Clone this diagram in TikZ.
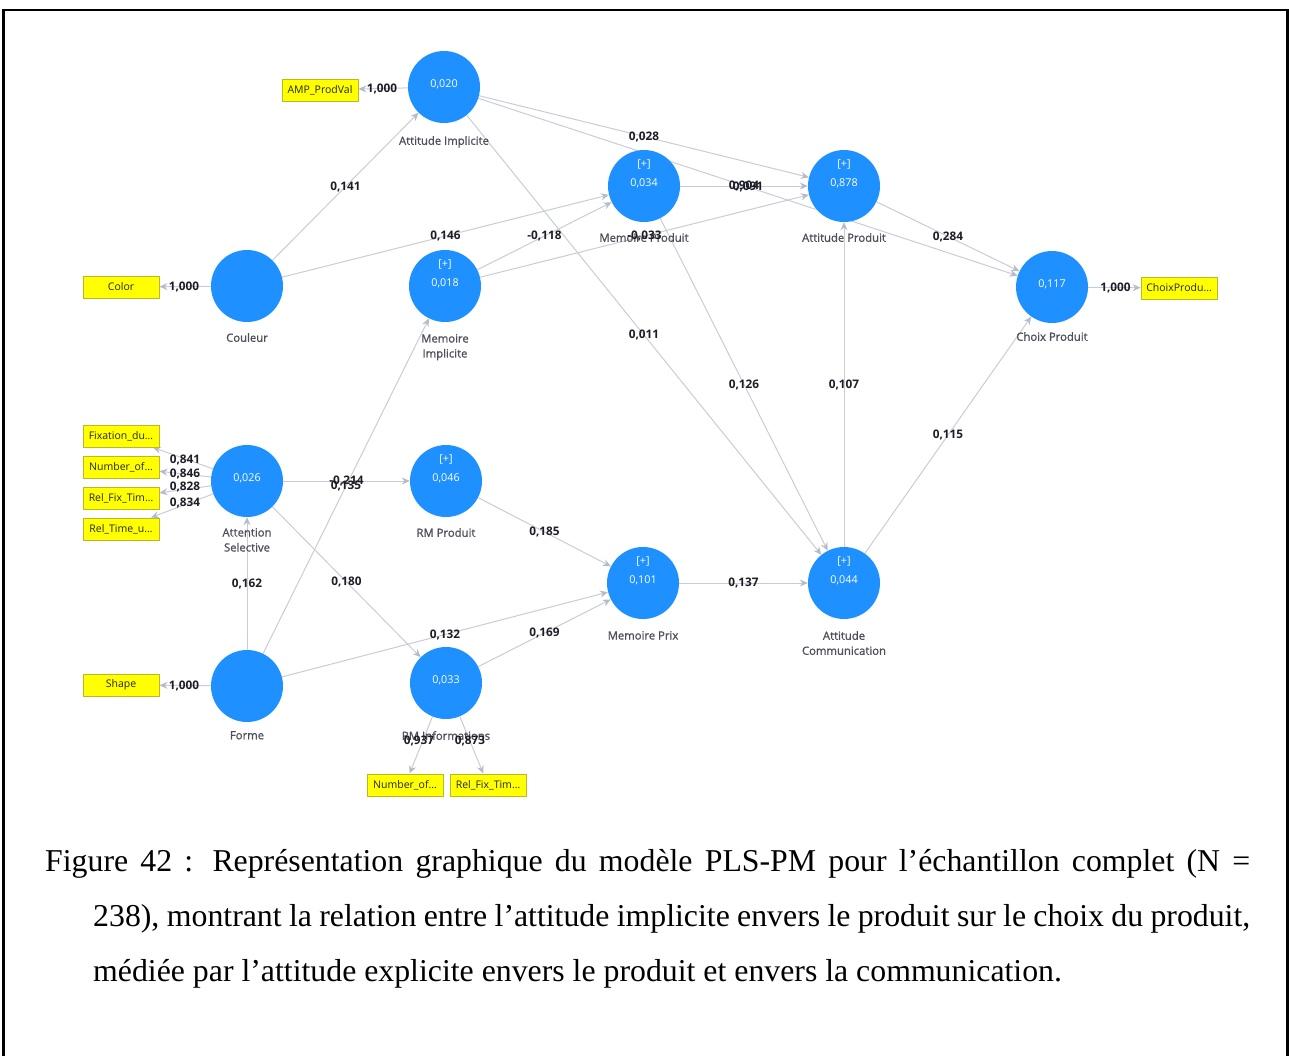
\documentclass[tikz,border=0pt]{standalone}
\usepackage{fontspec}
\setmainfont{Liberation Serif}
\newfontfamily\dfont{Open Sans}
\newfontfamily\lfont[FakeBold=1.1]{Open Sans}
\usetikzlibrary{arrows.meta,calc}
\pgfdeclarelayer{bg}
\pgfsetlayers{bg,main}
\definecolor{lvblue}{RGB}{30,144,255}
\definecolor{edgec}{RGB}{200,204,216}
\definecolor{tipc}{RGB}{182,187,202}
\definecolor{boxy}{RGB}{255,255,0}
\definecolor{boxb}{RGB}{185,185,40}
\definecolor{labc}{RGB}{78,78,92}
\definecolor{coefc}{RGB}{30,30,40}
\tikzset{
  lv/.style={circle,fill=lvblue,minimum size=72pt,inner sep=0pt},
  mv/.style={rectangle,fill=boxy,draw=boxb,line width=0.8pt,minimum width=76pt,minimum height=22pt,inner sep=0pt,font=\dfont\fontsize{10.5}{12}\selectfont,text=black!85},
  val/.style={text=white,font=\dfont\fontsize{10.8}{12}\selectfont,inner sep=0pt},
  lab/.style={text=labc,font=\lfont\fontsize{11.3}{15}\selectfont,align=center,anchor=north,inner sep=0pt},
  coef/.style={text=coefc,font=\dfont\bfseries\fontsize{11.8}{13}\selectfont,inner sep=0pt},
  edge/.style={draw=edgec,line width=1pt,-{Stealth[length=8pt,width=7pt,color=tipc]}},
  captext/.style={anchor=base west,inner sep=0pt,font=\fontsize{31.8}{36}\selectfont},
}
\begin{document}
\begin{tikzpicture}[x=1pt,y=-1pt]
\useasboundingbox (0,0) rectangle (1289,1055);
\draw[line width=2.2pt] (3.5,1060) -- (3.5,10) -- (1287.5,10) -- (1287.5,1060);

% latent variables
\node[lv] (ai) at (444,87) {};
\node[lv] (cou) at (247,286) {};
\node[lv] (mi) at (445,286) {};
\node[lv] (mp) at (644,186) {};
\node[lv] (ap) at (844,186) {};
\node[lv] (ch) at (1052,287) {};
\node[lv] (as) at (247,481) {};
\node[lv] (rp) at (446,481) {};
\node[lv] (mx) at (643,583) {};
\node[lv] (ac) at (844,583) {};
\node[lv] (fo) at (247,686) {};
\node[lv] (ri) at (446,683) {};

% values inside
\node[val] at ($(ai)+(0,-3)$) {0,020};
\node[val] at ($(mi)+(0,-22)$) {[+]};
\node[val] at ($(mi)+(0,-3)$) {0,018};
\node[val] at ($(mp)+(0,-22)$) {[+]};
\node[val] at ($(mp)+(0,-3)$) {0,034};
\node[val] at ($(ap)+(0,-22)$) {[+]};
\node[val] at ($(ap)+(0,-3)$) {0,878};
\node[val] at ($(ch)+(0,-3)$) {0,117};
\node[val] at ($(as)+(0,-3)$) {0,026};
\node[val] at ($(rp)+(0,-22)$) {[+]};
\node[val] at ($(rp)+(0,-3)$) {0,046};
\node[val] at ($(mx)+(0,-22)$) {[+]};
\node[val] at ($(mx)+(0,-3)$) {0,101};
\node[val] at ($(ac)+(0,-22)$) {[+]};
\node[val] at ($(ac)+(0,-3)$) {0,044};
\node[val] at ($(ri)+(0,-3)$) {0,033};

% names
\node[lab] at ($(ai)+(0,49)$) {Attitude Implicite};
\node[lab] at ($(cou)+(0,47)$) {Couleur};
\node[lab] at ($(mi)+(0,48)$) {Memoire\\Implicite};
\node[lab] at ($(mp)+(0,47)$) {Memoire Produit};
\node[lab] at ($(ap)+(0,47)$) {Attitude Produit};
\node[lab] at ($(ch)+(0,45)$) {Choix Produit};
\node[lab] at ($(as)+(0,47)$) {Attention\\Selective};
\node[lab] at ($(rp)+(0,47)$) {RM Produit};
\node[lab] at ($(mx)+(0,48)$) {Memoire Prix};
\node[lab] at ($(ac)+(0,48)$) {Attitude\\Communication};
\node[lab] at ($(fo)+(0,45)$) {Forme};
\node[lab] at ($(ri)+(0,48)$) {RM Informations};

% indicators
\node[mv] (amp) at (320,90) {AMP\_ProdVal};
\node[mv] (color) at (121,287) {Color};
\node[mv] (chb) at (1179,288) {ChoixProdu…};
\node[mv] (fix) at (121,436) {Fixation\_du…};
\node[mv] (nof) at (121,467) {Number\_of…};
\node[mv] (rft) at (121,498) {Rel\_Fix\_Tim…};
\node[mv] (rtu) at (121,529) {Rel\_Time\_u…};
\node[mv] (shape) at (121,685) {Shape};
\node[mv] (nof2) at (405,785) {Number\_of…};
\node[mv] (rft2) at (488,785) {Rel\_Fix\_Tim…};

\begin{pgfonlayer}{bg}
\draw[edge] (ai) -- (amp);
\draw[edge] (cou) -- (color);
\draw[edge] (ch) -- (chb);
\draw[edge] (as) -- (fix);
\draw[edge] (as) -- (nof);
\draw[edge] (as) -- (rft);
\draw[edge] (as) -- (rtu);
\draw[edge] (fo) -- (shape);
\draw[edge] (ri) -- (nof2);
\draw[edge] (ri) -- (rft2);
\draw[edge] (cou) -- (ai);
\draw[edge] (cou) -- (mp);
\draw[edge] (ai) -- (ap);
\draw[edge] (ai) -- (ch);
\draw[edge] (ai) -- (ac);
\draw[edge] (mi) -- (mp);
\draw[edge] (mi) -- (ap);
\draw[edge] (mp) -- (ap);
\draw[edge] (mp) -- (ac);
\draw[edge] (ap) -- (ch);
\draw[edge] (ac) -- (ap);
\draw[edge] (ac) -- (ch);
\draw[edge] (as) -- (rp);
\draw[edge] (fo) -- (mi);
\draw[edge] (fo) -- (as);
\draw[edge] (as) -- (ri);
\draw[edge] (fo) -- (mx);
\draw[edge] (ri) -- (mx);
\draw[edge] (rp) -- (mx);
\draw[edge] (mx) -- (ac);
\end{pgfonlayer}

% loadings
\node[coef] at ($(ai)!0.5!(amp)$) {1,000};
\node[coef] at ($(cou)!0.5!(color)$) {1,000};
\node[coef] at ($(ch)!0.5!(chb)$) {1,000};
\node[coef] at ($(fo)!0.5!(shape)$) {1,000};
\node[coef] at (185,460) {0,841};
\node[coef] at (185,474) {0,846};
\node[coef] at (185,487) {0,828};
\node[coef] at (185,503) {0,834};
\node[coef] at (419,741) {0,937};
\node[coef] at (470,741) {0,873};

% path coefficients
\node[coef] at ($(cou)!0.5!(ai)$) {0,141};
\node[coef] at ($(cou)!0.5!(mp)$) {0,146};
\node[coef] at ($(ai)!0.5!(ap)$) {0,028};
\node[coef] at ($(ai)!0.5!(ch)$) {0,091};
\node[coef] at ($(ai)!0.5!(ac)$) {0,011};
\node[coef] at ($(mi)!0.5!(mp)$) {-0,118};
\node[coef] at ($(mi)!0.5!(ap)$) {-0,033};
\node[coef] at ($(mp)!0.5!(ap)$) {0,904};
\node[coef] at ($(mp)!0.5!(ac)$) {0,126};
\node[coef] at ($(ap)!0.5!(ch)$) {0,284};
\node[coef] at ($(ac)!0.5!(ap)$) {0,107};
\node[coef] at ($(ac)!0.5!(ch)$) {0,115};
\node[coef] at ($(as)!0.5!(rp)$) {-0,214};
\node[coef] at ($(fo)!0.5!(mi)$) {0,135};
\node[coef] at ($(fo)!0.5!(as)$) {0,162};
\node[coef] at ($(as)!0.5!(ri)$) {0,180};
\node[coef] at ($(fo)!0.5!(mx)$) {0,132};
\node[coef] at ($(ri)!0.5!(mx)$) {0,169};
\node[coef] at ($(rp)!0.5!(mx)$) {0,185};
\node[coef] at ($(mx)!0.5!(ac)$) {0,137};

% caption
\node[captext] (c1) at (45,871) {\makebox[1205pt][s]{Figure 42 : Représentation graphique du modèle PLS-PM pour l’échantillon complet (N =}};
\node[captext] (c2) at (93,926) {\makebox[1157pt][s]{238), montrant la relation entre l’attitude implicite envers le produit sur le choix du produit,}};
\node[captext] (c3) at (93,981) {médiée par l’attitude explicite envers le produit et envers la communication.};
\end{tikzpicture}
\end{document}
